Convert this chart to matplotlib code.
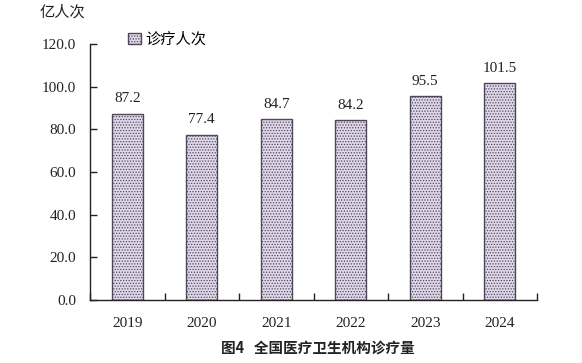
import matplotlib.pyplot as plt
import matplotlib as mpl
import numpy as np

years = ["2019", "2020", "2021", "2022", "2023", "2024"]
visits = [87.2, 77.4, 84.7, 84.2, 95.5, 101.5]
y_ticks = [0, 20, 40, 60, 80, 100, 120]

SERIF = ["Liberation Serif", "DejaVu Serif"]
CJK = ["Noto Sans CJK SC", "DejaVu Sans"]

mpl.rcParams["hatch.color"] = "#a497b5"
mpl.rcParams["hatch.linewidth"] = 0.6

fig = plt.figure(figsize=(5.82, 3.63), dpi=100)
ax = fig.add_axes([90 / 582, 1 - 300 / 363, 447 / 582, 256 / 363])

x = np.arange(len(years))
bars = ax.bar(x, visits, width=0.42, color="#e0d8ea", edgecolor="#4d4858",
              linewidth=1.0, hatch="......", label="诊疗人次")

for xi, v in zip(x, visits):
    ax.text(xi, v + 4, f"{v:.1f}", ha="center", va="bottom",
            fontsize=11, family=SERIF, color="#222222")

ax.set_xlim(-0.5, len(years) - 0.5)
ax.set_ylim(0, 120)
ax.set_yticks(y_ticks)
ax.set_yticklabels([f"{t:.1f}" for t in y_ticks], family=SERIF, fontsize=11)
ax.set_xticks(x)
ax.set_xticklabels(years, family=SERIF, fontsize=11)
ax.set_xticks(np.arange(-0.5, len(years)), minor=True)

ax.tick_params(axis="y", direction="in", length=5, width=1, pad=10, colors="#222222")
ax.tick_params(axis="x", which="major", length=0, pad=12, colors="#222222")
ax.tick_params(axis="x", which="minor", direction="in", length=5, width=1, color="#222222")

for side in ["top", "right"]:
    ax.spines[side].set_visible(False)
for side in ["left", "bottom"]:
    ax.spines[side].set_color("#222222")
    ax.spines[side].set_linewidth(1)

ax.legend(loc="upper left", bbox_to_anchor=(0.055, 1.105), frameon=False,
          prop={"family": CJK, "size": 11}, handlelength=0.8, handleheight=0.8,
          handletextpad=0.3)

fig.text(40 / 582, 1 - 12 / 363, "亿人次", family=CJK, fontsize=11,
         ha="left", va="center", color="#222222")
fig.text(318 / 582, 1 - 348 / 363, "图4   全国医疗卫生机构诊疗量", family=CJK,
         fontsize=10.5, fontweight="bold", ha="center", va="center", color="#222222")

fig.savefig("out.png", dpi=100)
